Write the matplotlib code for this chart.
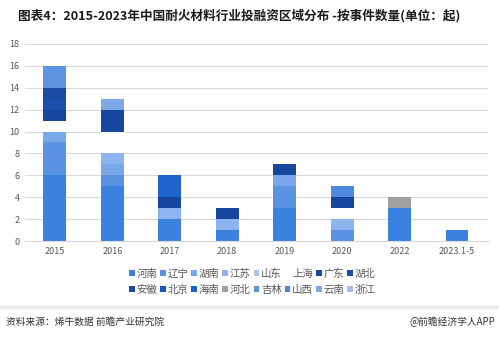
import numpy as np
import matplotlib
matplotlib.use("Agg")
import matplotlib.pyplot as plt
from matplotlib.patches import Patch

plt.rcParams['font.family'] = ['Noto Sans CJK SC', 'DejaVu Sans']

years = ['2015', '2016', '2017', '2018', '2019', '2020', '2022', '2023.1-5']

# investment events per region, stacked bottom to top in this order
henan    = [6, 5, 2, 1, 3, 0, 3, 1]
liaoning = [3, 1, 0, 0, 2, 1, 0, 0]
hunan    = [1, 1, 0, 0, 1, 0, 0, 0]
jiangsu  = [0, 1, 1, 1, 0, 1, 0, 0]
shandong = [0, 0, 0, 0, 0, 0, 0, 0]
shanghai = [1, 2, 0, 0, 0, 1, 0, 0]
guangdong = [1, 2, 1, 1, 1, 1, 0, 0]
hubei    = [1, 0, 0, 0, 0, 0, 0, 0]
anhui    = [1, 0, 0, 0, 0, 0, 0, 0]
beijing  = [0, 0, 0, 0, 0, 0, 0, 0]
hainan   = [0, 0, 2, 0, 0, 0, 0, 0]
hebei    = [0, 0, 0, 0, 0, 0, 1, 0]
jilin    = [2, 0, 0, 0, 0, 0, 0, 0]
shanxi   = [0, 0, 0, 0, 0, 1, 0, 0]
yunnan   = [0, 1, 0, 0, 0, 0, 0, 0]
zhejiang = [0, 0, 0, 0, 0, 0, 0, 0]

regions = ['河南', '辽宁', '湖南', '江苏', '山东', '上海', '广东', '湖北',
           '安徽', '北京', '海南', '河北', '吉林', '山西', '云南', '浙江']
series = [henan, liaoning, hunan, jiangsu, shandong, shanghai, guangdong, hubei,
          anhui, beijing, hainan, hebei, jilin, shanxi, yunnan, zhejiang]
colors = ['#3b82e0', '#5a93e2', '#7aa7ea', '#8db4ee', '#a9c6f2', '#ffffff',
          '#17469e', '#1a4fae', '#1b4ca4', '#1a56ba', '#1f63d0', '#a0a0a0',
          '#5c95e2', '#4d8ade', '#7fa8e8', '#a8c0f0']

fig = plt.figure(figsize=(4.99, 3.40), dpi=100)
ax = fig.add_axes([0.050, 0.291, 0.928, 0.580])

x = np.arange(len(years))
bottom = np.zeros(len(years))
for vals, col in zip(series, colors):
    vals = np.array(vals, dtype=float)
    ax.bar(x, vals, 0.4, bottom=bottom, color=col, linewidth=0, zorder=2)
    bottom += vals

ax.set_ylim(0, 18)
ax.set_yticks(np.arange(0, 19, 2))
ax.set_xlim(-0.52, 7.54)
ax.set_xticks(x)
ax.set_xticklabels(years)
ax.tick_params(axis='both', length=0, labelsize=6.5, colors='#595959', pad=4)
ax.grid(axis='y', color='#d9d9d9', linewidth=0.8, zorder=0)
for s in ['top', 'right', 'left']:
    ax.spines[s].set_visible(False)
ax.spines['bottom'].set_color('#d9d9d9')

# legend fills column by column, so interleave to get two rows of eight
handles = [Patch(facecolor=c, edgecolor='none', label=n) for n, c in zip(regions, colors)]
ordered = []
for i in range(8):
    ordered.append(handles[i])
    ordered.append(handles[i + 8])
fig.legend(handles=ordered, ncol=8, loc='center', bbox_to_anchor=(0.505, 0.172),
           frameon=False, fontsize=7.5, handlelength=0.55, handleheight=0.55,
           handletextpad=0.15, columnspacing=0.3, labelspacing=0.55,
           labelcolor='#595959')

fig.text(0.036, 0.955, '图表4：2015-2023年中国耐火材料行业投融资区域分布 -按事件数量(单位：起)',
         fontsize=9.1, fontweight='bold', color='#1a1a1a', va='center', ha='left')

fig.add_artist(plt.Line2D([0, 1], [0.098, 0.098], color='#ebebeb', linewidth=2.5))
fig.text(0.012, 0.052, '资料来源：烯牛数据 前瞻产业研究院', fontsize=7, color='#333333',
         va='center', ha='left')
fig.text(0.992, 0.052, '@前瞻经济学人APP', fontsize=7, color='#333333',
         va='center', ha='right')

fig.savefig('out.png', dpi=100)
